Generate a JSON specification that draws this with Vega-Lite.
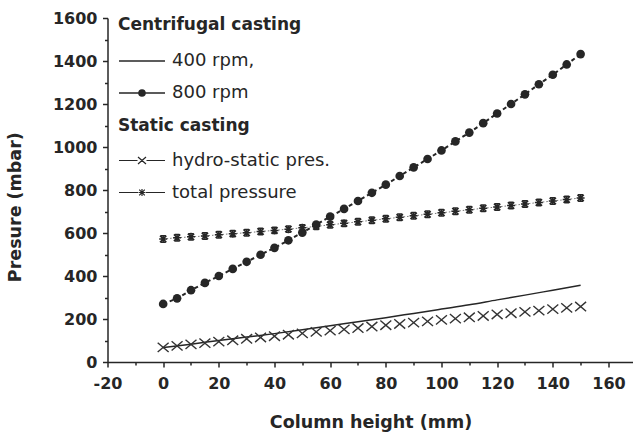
{
  "$schema": "https://vega.github.io/schema/vega-lite/v6.json",
  "width": 526,
  "height": 344,
  "autosize": {"type": "none"},
  "padding": {"left": 107.5, "top": 18, "right": 0, "bottom": 75},
  "background": "white",
  "config": {
    "view": {"stroke": null},
    "font": "DejaVu Sans",
    "axis": {
      "grid": false,
      "domainColor": "#262626",
      "domainWidth": 1.5,
      "tickColor": "#262626",
      "tickWidth": 1.5,
      "labelColor": "#262626",
      "titleColor": "#262626",
      "labelFont": "DejaVu Sans",
      "labelFontWeight": "bold",
      "labelFontSize": 16,
      "titleFont": "DejaVu Sans",
      "titleFontWeight": "bold",
      "titleFontSize": 17.5
    }
  },
  "datasets": {
    "main": [
      {"series": "400 rpm,", "group": "Centrifugal casting", "x": 0, "p": 67},
      {"series": "400 rpm,", "group": "Centrifugal casting", "x": 10, "p": 83},
      {"series": "400 rpm,", "group": "Centrifugal casting", "x": 20, "p": 100},
      {"series": "400 rpm,", "group": "Centrifugal casting", "x": 30, "p": 116},
      {"series": "400 rpm,", "group": "Centrifugal casting", "x": 40, "p": 132},
      {"series": "400 rpm,", "group": "Centrifugal casting", "x": 50, "p": 150},
      {"series": "400 rpm,", "group": "Centrifugal casting", "x": 60, "p": 169},
      {"series": "400 rpm,", "group": "Centrifugal casting", "x": 70, "p": 187},
      {"series": "400 rpm,", "group": "Centrifugal casting", "x": 80, "p": 206},
      {"series": "400 rpm,", "group": "Centrifugal casting", "x": 90, "p": 226},
      {"series": "400 rpm,", "group": "Centrifugal casting", "x": 100, "p": 246},
      {"series": "400 rpm,", "group": "Centrifugal casting", "x": 110, "p": 266},
      {"series": "400 rpm,", "group": "Centrifugal casting", "x": 120, "p": 289},
      {"series": "400 rpm,", "group": "Centrifugal casting", "x": 130, "p": 311},
      {"series": "400 rpm,", "group": "Centrifugal casting", "x": 140, "p": 334},
      {"series": "400 rpm,", "group": "Centrifugal casting", "x": 150, "p": 357},

      {"series": "800 rpm", "group": "Centrifugal casting", "x": 0, "p": 270},
      {"series": "800 rpm", "group": "Centrifugal casting", "x": 5, "p": 296},
      {"series": "800 rpm", "group": "Centrifugal casting", "x": 10, "p": 334},
      {"series": "800 rpm", "group": "Centrifugal casting", "x": 15, "p": 368},
      {"series": "800 rpm", "group": "Centrifugal casting", "x": 20, "p": 400},
      {"series": "800 rpm", "group": "Centrifugal casting", "x": 25, "p": 433},
      {"series": "800 rpm", "group": "Centrifugal casting", "x": 30, "p": 466},
      {"series": "800 rpm", "group": "Centrifugal casting", "x": 35, "p": 499},
      {"series": "800 rpm", "group": "Centrifugal casting", "x": 40, "p": 531},
      {"series": "800 rpm", "group": "Centrifugal casting", "x": 45, "p": 566},
      {"series": "800 rpm", "group": "Centrifugal casting", "x": 50, "p": 602},
      {"series": "800 rpm", "group": "Centrifugal casting", "x": 55, "p": 639},
      {"series": "800 rpm", "group": "Centrifugal casting", "x": 60, "p": 676},
      {"series": "800 rpm", "group": "Centrifugal casting", "x": 65, "p": 712},
      {"series": "800 rpm", "group": "Centrifugal casting", "x": 70, "p": 749},
      {"series": "800 rpm", "group": "Centrifugal casting", "x": 75, "p": 787},
      {"series": "800 rpm", "group": "Centrifugal casting", "x": 80, "p": 825},
      {"series": "800 rpm", "group": "Centrifugal casting", "x": 85, "p": 865},
      {"series": "800 rpm", "group": "Centrifugal casting", "x": 90, "p": 905},
      {"series": "800 rpm", "group": "Centrifugal casting", "x": 95, "p": 944},
      {"series": "800 rpm", "group": "Centrifugal casting", "x": 100, "p": 984},
      {"series": "800 rpm", "group": "Centrifugal casting", "x": 105, "p": 1026},
      {"series": "800 rpm", "group": "Centrifugal casting", "x": 110, "p": 1067},
      {"series": "800 rpm", "group": "Centrifugal casting", "x": 115, "p": 1111},
      {"series": "800 rpm", "group": "Centrifugal casting", "x": 120, "p": 1156},
      {"series": "800 rpm", "group": "Centrifugal casting", "x": 125, "p": 1200},
      {"series": "800 rpm", "group": "Centrifugal casting", "x": 130, "p": 1245},
      {"series": "800 rpm", "group": "Centrifugal casting", "x": 135, "p": 1292},
      {"series": "800 rpm", "group": "Centrifugal casting", "x": 140, "p": 1336},
      {"series": "800 rpm", "group": "Centrifugal casting", "x": 145, "p": 1384},
      {"series": "800 rpm", "group": "Centrifugal casting", "x": 150, "p": 1432},

      {"series": "hydro-static pres.", "group": "Static casting", "x": 0, "p": 68},
      {"series": "hydro-static pres.", "group": "Static casting", "x": 5, "p": 75},
      {"series": "hydro-static pres.", "group": "Static casting", "x": 10, "p": 82},
      {"series": "hydro-static pres.", "group": "Static casting", "x": 15, "p": 88},
      {"series": "hydro-static pres.", "group": "Static casting", "x": 20, "p": 95},
      {"series": "hydro-static pres.", "group": "Static casting", "x": 25, "p": 101},
      {"series": "hydro-static pres.", "group": "Static casting", "x": 30, "p": 108},
      {"series": "hydro-static pres.", "group": "Static casting", "x": 35, "p": 114},
      {"series": "hydro-static pres.", "group": "Static casting", "x": 40, "p": 120},
      {"series": "hydro-static pres.", "group": "Static casting", "x": 45, "p": 127},
      {"series": "hydro-static pres.", "group": "Static casting", "x": 50, "p": 133},
      {"series": "hydro-static pres.", "group": "Static casting", "x": 55, "p": 140},
      {"series": "hydro-static pres.", "group": "Static casting", "x": 60, "p": 146},
      {"series": "hydro-static pres.", "group": "Static casting", "x": 65, "p": 152},
      {"series": "hydro-static pres.", "group": "Static casting", "x": 70, "p": 158},
      {"series": "hydro-static pres.", "group": "Static casting", "x": 75, "p": 165},
      {"series": "hydro-static pres.", "group": "Static casting", "x": 80, "p": 171},
      {"series": "hydro-static pres.", "group": "Static casting", "x": 85, "p": 177},
      {"series": "hydro-static pres.", "group": "Static casting", "x": 90, "p": 183},
      {"series": "hydro-static pres.", "group": "Static casting", "x": 95, "p": 189},
      {"series": "hydro-static pres.", "group": "Static casting", "x": 100, "p": 196},
      {"series": "hydro-static pres.", "group": "Static casting", "x": 105, "p": 202},
      {"series": "hydro-static pres.", "group": "Static casting", "x": 110, "p": 208},
      {"series": "hydro-static pres.", "group": "Static casting", "x": 115, "p": 214},
      {"series": "hydro-static pres.", "group": "Static casting", "x": 120, "p": 221},
      {"series": "hydro-static pres.", "group": "Static casting", "x": 125, "p": 227},
      {"series": "hydro-static pres.", "group": "Static casting", "x": 130, "p": 233},
      {"series": "hydro-static pres.", "group": "Static casting", "x": 135, "p": 239},
      {"series": "hydro-static pres.", "group": "Static casting", "x": 140, "p": 246},
      {"series": "hydro-static pres.", "group": "Static casting", "x": 145, "p": 252},
      {"series": "hydro-static pres.", "group": "Static casting", "x": 150, "p": 258},

      {"series": "total pressure", "group": "Static casting", "x": 0, "p": 572},
      {"series": "total pressure", "group": "Static casting", "x": 5, "p": 578},
      {"series": "total pressure", "group": "Static casting", "x": 10, "p": 582},
      {"series": "total pressure", "group": "Static casting", "x": 15, "p": 586},
      {"series": "total pressure", "group": "Static casting", "x": 20, "p": 592},
      {"series": "total pressure", "group": "Static casting", "x": 25, "p": 597},
      {"series": "total pressure", "group": "Static casting", "x": 30, "p": 601},
      {"series": "total pressure", "group": "Static casting", "x": 35, "p": 607},
      {"series": "total pressure", "group": "Static casting", "x": 40, "p": 612},
      {"series": "total pressure", "group": "Static casting", "x": 45, "p": 618},
      {"series": "total pressure", "group": "Static casting", "x": 50, "p": 624},
      {"series": "total pressure", "group": "Static casting", "x": 55, "p": 631},
      {"series": "total pressure", "group": "Static casting", "x": 60, "p": 638},
      {"series": "total pressure", "group": "Static casting", "x": 65, "p": 645},
      {"series": "total pressure", "group": "Static casting", "x": 70, "p": 652},
      {"series": "total pressure", "group": "Static casting", "x": 75, "p": 659},
      {"series": "total pressure", "group": "Static casting", "x": 80, "p": 666},
      {"series": "total pressure", "group": "Static casting", "x": 85, "p": 673},
      {"series": "total pressure", "group": "Static casting", "x": 90, "p": 680},
      {"series": "total pressure", "group": "Static casting", "x": 95, "p": 687},
      {"series": "total pressure", "group": "Static casting", "x": 100, "p": 694},
      {"series": "total pressure", "group": "Static casting", "x": 105, "p": 701},
      {"series": "total pressure", "group": "Static casting", "x": 110, "p": 708},
      {"series": "total pressure", "group": "Static casting", "x": 115, "p": 715},
      {"series": "total pressure", "group": "Static casting", "x": 120, "p": 721},
      {"series": "total pressure", "group": "Static casting", "x": 125, "p": 728},
      {"series": "total pressure", "group": "Static casting", "x": 130, "p": 735},
      {"series": "total pressure", "group": "Static casting", "x": 135, "p": 742},
      {"series": "total pressure", "group": "Static casting", "x": 140, "p": 749},
      {"series": "total pressure", "group": "Static casting", "x": 145, "p": 756},
      {"series": "total pressure", "group": "Static casting", "x": 150, "p": 763}
    ]
  },
  "data": {"name": "main"},
  "layer": [
    {
      "transform": [{"filter": "datum.series == '400 rpm,'"}],
      "mark": {"type": "line", "color": "#262626", "strokeWidth": 1.5, "interpolate": "monotone"},
      "encoding": {
        "x": {"field": "x", "type": "quantitative", "scale": {"domain": [-20, 169], "nice": false, "zero": false},
          "axis": {"values": [-20, 0, 20, 40, 60, 80, 100, 120, 140, 160], "labelExpr": "'' + datum.value", "tickSize": 5, "labelPadding": 21, "labelBaseline": "alphabetic", "labelFlush": false, "title": "Column height (mm)", "titleBaseline": "alphabetic", "titleY": 65}},
        "y": {"field": "p", "type": "quantitative", "scale": {"domain": [0, 1600], "nice": false},
          "axis": {"values": [0, 200, 400, 600, 800, 1000, 1200, 1400, 1600], "labelExpr": "'' + datum.value", "tickSize": 5, "labelPadding": 5.5, "labelFlush": false, "title": "Presure (mbar)", "titleBaseline": "alphabetic", "titleX": -87.5, "titleY": 188.7}}
      }
    },
    {
      "transform": [{"filter": "datum.series == '800 rpm'"}],
      "mark": {"type": "line", "color": "#262626", "strokeWidth": 2, "strokeDash": [4, 3]},
      "encoding": {
        "x": {"field": "x", "type": "quantitative", "axis": {"orient": "bottom", "values": [-10, 10, 30, 50, 70, 90, 110, 130, 150], "tickSize": 3, "labels": false, "domain": false, "title": null}},
        "y": {"field": "p", "type": "quantitative", "axis": {"orient": "left", "values": [100, 300, 500, 700, 900, 1100, 1300, 1500], "tickSize": 3, "labels": false, "domain": false, "title": null}}
      }
    },
    {
      "transform": [{"filter": "datum.series == '800 rpm'"}],
      "mark": {"type": "point", "shape": "circle", "filled": true, "opacity": 1, "color": "#262626", "size": 75},
      "encoding": {
        "x": {"field": "x", "type": "quantitative", "axis": null},
        "y": {"field": "p", "type": "quantitative", "axis": null}
      }
    },
    {
      "transform": [{"filter": "datum.series == 'hydro-static pres.'"}],
      "mark": {"type": "point", "shape": "M-1,-0.85L1,0.85M-1,0.85L1,-0.85", "filled": false, "opacity": 1, "color": "#333333", "strokeWidth": 1.4, "size": 120},
      "encoding": {
        "x": {"field": "x", "type": "quantitative", "axis": null},
        "y": {"field": "p", "type": "quantitative", "axis": null}
      }
    },
    {
      "transform": [{"filter": "datum.series == 'total pressure'"}],
      "mark": {"type": "line", "color": "#777777", "strokeWidth": 1, "strokeDash": [1.5, 2]},
      "encoding": {
        "x": {"field": "x", "type": "quantitative", "axis": null},
        "y": {"field": "p", "type": "quantitative", "axis": null}
      }
    },
    {
      "transform": [{"filter": "datum.series == 'total pressure'"}],
      "mark": {"type": "point", "shape": "M-1,0L1,0M0,-1L0,1M-0.8,-0.8L0.8,0.8M-0.8,0.8L0.8,-0.8M-0.6,-0.8H0.6M-0.6,0.8H0.6", "filled": false, "opacity": 1, "color": "#262626", "strokeWidth": 1.5, "size": 64},
      "encoding": {
        "x": {"field": "x", "type": "quantitative", "axis": null},
        "y": {"field": "p", "type": "quantitative", "axis": null}
      }
    },
    {
      "transform": [{"filter": "datum.group == 'Centrifugal casting' && datum.x == 0"}],
      "mark": {"type": "point", "filled": false, "color": "#262626", "strokeWidth": 1.6, "opacity": 0},
      "encoding": {
        "x": {"field": "x", "type": "quantitative", "axis": null},
        "y": {"field": "p", "type": "quantitative", "axis": null},
        "shape": {"field": "series", "type": "nominal",
          "scale": {"domain": ["400 rpm,", "800 rpm"], "range": ["M-1,0L3.6,0", "M-1,0L3.6,0M1,0A0.3,0.3 0 1,0 1.6,0A0.3,0.3 0 1,0 1,0M1.1,0A0.2,0.2 0 1,0 1.5,0A0.2,0.2 0 1,0 1.1,0M1.2,0A0.1,0.1 0 1,0 1.4,0A0.1,0.1 0 1,0 1.2,0"]},
          "legend": {"title": "Centrifugal casting", "orient": "none", "legendX": 10.5, "legendY": -1, "padding": 0,
            "titleFont": "DejaVu Sans", "titleFontSize": 17, "titleFontWeight": "bold", "titleColor": "#262626", "titlePadding": 16, "titleLimit": 400,
            "labelFont": "DejaVu Sans", "labelFontSize": 18, "labelColor": "#262626", "labelOffset": 32, "labelLimit": 400,
            "symbolSize": 400, "rowPadding": 12, "symbolOpacity": 1, "symbolStrokeWidth": 1.6}}
      }
    },
    {
      "transform": [{"filter": "datum.group == 'Static casting' && datum.x == 0"}],
      "mark": {"type": "point", "filled": false, "color": "#262626", "strokeWidth": 1.4, "opacity": 0},
      "encoding": {
        "x": {"field": "x", "type": "quantitative", "axis": null},
        "y": {"field": "p", "type": "quantitative", "axis": null},
        "shape": {"field": "series", "type": "nominal",
          "scale": {"domain": ["hydro-static pres.", "total pressure"], "range": ["M-1,0L0.85,0M1.75,0L3.6,0M0.9,-0.35L1.7,0.35M0.9,0.35L1.7,-0.35", "M-1,0L0.9,0M1.7,0L3.6,0M0.95,0L1.65,0M1.3,-0.35L1.3,0.35M1.02,-0.28L1.58,0.28M1.02,0.28L1.58,-0.28"]},
          "legend": {"title": "Static casting", "orient": "none", "legendX": 10.5, "legendY": 100, "padding": 0,
            "titleFont": "DejaVu Sans", "titleFontSize": 17, "titleFontWeight": "bold", "titleColor": "#262626", "titlePadding": 14.5, "titleLimit": 400,
            "labelFont": "DejaVu Sans", "labelFontSize": 18, "labelColor": "#262626", "labelOffset": 32, "labelLimit": 400,
            "symbolSize": 400, "rowPadding": 12, "symbolOpacity": 1, "symbolStrokeWidth": 1.2}}
      }
    }
  ],
  "resolve": {
    "scale": {"shape": "independent"},
    "legend": {"shape": "independent"},
    "axis": {"x": "independent", "y": "independent"}
  }
}
